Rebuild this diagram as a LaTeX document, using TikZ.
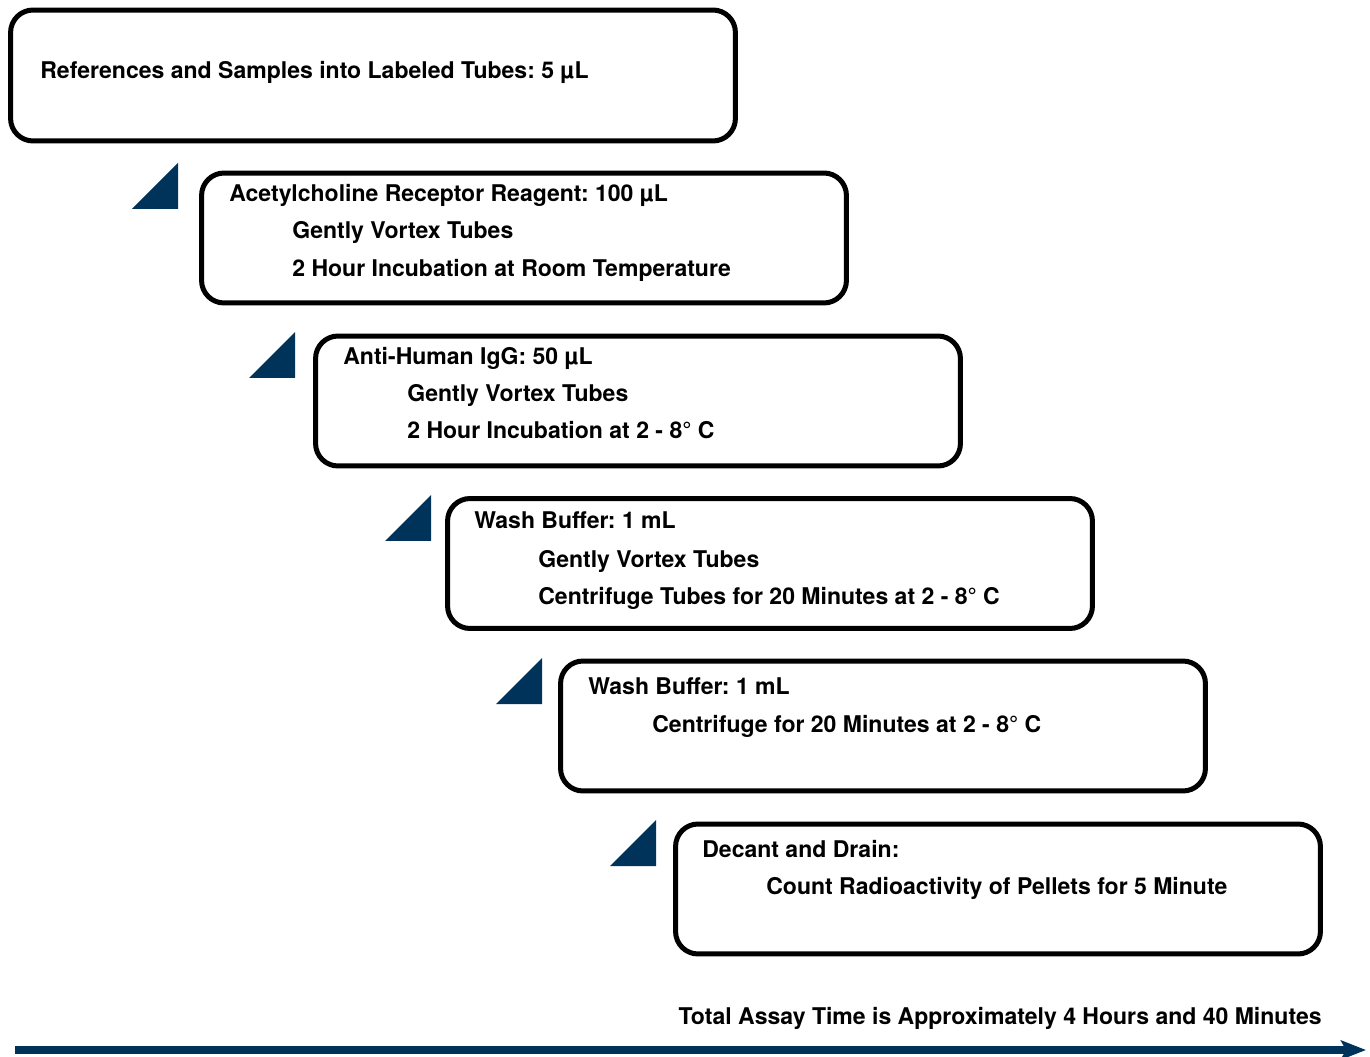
\documentclass[tikz,border=0pt]{standalone}
\usepackage{fontspec}
\setmainfont{TeX Gyre Heros}
\usetikzlibrary{arrows.meta}
\definecolor{assaynavy}{RGB}{0,51,90}
\frenchspacing

\begin{document}
\begin{tikzpicture}[x=0.02cm, y=-0.02cm,
  stepbox/.style={draw, line width=2.85pt, rounded corners=0.45cm,
    minimum width=12.9cm, minimum height=2.6cm, inner sep=0pt},
  steptext/.style={anchor=base west, inner sep=0pt,
    font=\fontsize{13.1}{15}\selectfont\bfseries},
  wedge/.style={fill=assaynavy}]

  \useasboundingbox (0,0) rectangle (1370,1057);

  % first step (wider box, no wedge)
  \node[stepbox, minimum width=14.5cm, minimum height=2.62cm] (box1) at (373,75.5) {};
  \node[steptext] (t1a) at (40,79) {References and Samples into Labeled Tubes: 5 µL};

  % remaining steps: box and wedge in front of it
  \foreach \n/\cx/\cy/\wx/\wy in {2/524/238/178/209, 3/638/401/295/378,
                                  4/770/563.5/431/541, 5/883/726/542/704,
                                  6/998/889/656/866} {
    \node[stepbox] (box\n) at (\cx,\cy) {};
    \fill[wedge] (\wx-46,\wy) -- (\wx,\wy) -- (\wx,\wy-46) -- cycle;
  }

  % step texts
  \node[steptext] (t2a) at (229,202) {Acetylcholine Receptor Reagent: 100 µL};
  \node[steptext] (t2b) at (292,239) {Gently Vortex Tubes};
  \node[steptext] (t2c) at (292,277) {2 Hour Incubation at Room Temperature};
  \node[steptext] (t3a) at (343,365) {Anti-Human IgG: 50 µL};
  \node[steptext] (t3b) at (407,402) {Gently Vortex Tubes};
  \node[steptext] (t3c) at (407,439) {2 Hour Incubation at 2 - 8° C};
  \node[steptext] (t4a) at (474,529) {Wash Buffer: 1 mL};
  \node[steptext] (t4b) at (538,567) {Gently Vortex Tubes};
  \node[steptext] (t4c) at (538,604) {Centrifuge Tubes for 20 Minutes at 2 - 8° C};
  \node[steptext] (t5a) at (588,694) {Wash Buffer: 1 mL};
  \node[steptext] (t5b) at (652,732) {Centrifuge for 20 Minutes at 2 - 8° C};
  \node[steptext] (t6a) at (702,857) {Decant and Drain:};
  \node[steptext] (t6b) at (766,894) {Count Radioactivity of Pellets for 5 Minute};

  % time line
  \node[steptext, anchor=base east] (total) at (1322,1024)
      {Total Assay Time is Approximately 4 Hours and 40 Minutes};
  \coordinate (tstart) at (15,1050);
  \coordinate (tend) at (1366,1050);
  \draw[assaynavy, line width=4pt,
        -{Stealth[length=0.5cm, width=0.38cm, inset=0.1cm]}] (tstart) -- (tend);

\end{tikzpicture}
\end{document}
